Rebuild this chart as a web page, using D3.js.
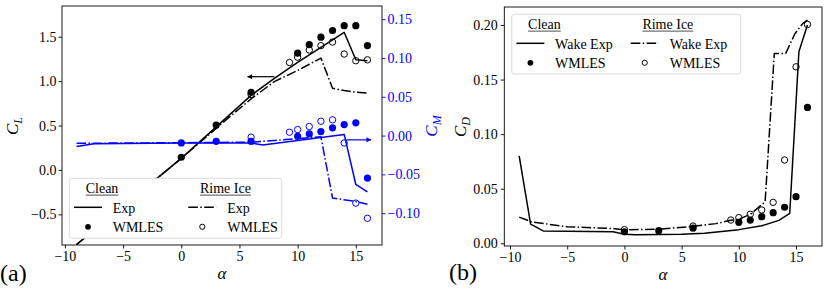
<!DOCTYPE html>
<html><head><meta charset="utf-8">
<script src="https://cdn.jsdelivr.net/npm/d3@7"></script>
<style>
body{margin:0;background:#fff;}
svg{display:block;font-family:"Liberation Serif","DejaVu Serif",serif;}
</style></head><body>
<svg id="c" width="830" height="291"></svg>
<script>
// ---------- data ----------
// Panel (a): lift coefficient C_L (left axis)
const clExpCleanA = [-9, 0, 6, 8, 10, 12, 14, 15, 16];
const clExpClean  = [-0.84, 0.13, 0.84, 1.03, 1.21, 1.38, 1.55, 1.24, 1.23];
const clExpRimeA  = [-9, 0, 4, 6, 8, 10, 11, 12, 13, 14, 15, 16];
const clExpRime   = [-0.84, 0.13, 0.58, 0.80, 0.995, 1.12, 1.19, 1.26, 0.92, 0.895, 0.875, 0.865];
const clLesCleanA = [0, 3, 6, 10, 11, 12, 13, 14, 15, 16];
const clLesClean  = [0.143, 0.505, 0.875, 1.315, 1.41, 1.495, 1.57, 1.625, 1.625, 1.40];
const clLesRimeA  = [6, 9.3, 10, 11, 12, 13, 14, 15, 16];
const clLesRime   = [0.85, 1.21, 1.27, 1.35, 1.40, 1.44, 1.305, 1.23, 1.24];
// Panel (a): moment coefficient C_M (right axis)
const cmExpCleanA = [-9, -7.5, 0, 6, 7, 14, 15, 16];
const cmExpClean  = [-0.014, -0.0105, -0.0095, -0.0095, -0.012, 0.0015, -0.063, -0.0725];
const cmExpRimeA  = [-9, -7.5, 0, 6, 12, 13, 15, 16];
const cmExpRime   = [-0.010, -0.0098, -0.0092, -0.0085, -0.0015, -0.0805, -0.085, -0.0885];
const cmLesCleanA = [0, 3, 6, 10, 11, 12, 13, 14, 15, 16];
const cmLesClean  = [-0.0095, -0.0074, -0.0074, -0.001, 0.0022, 0.0052, 0.010, 0.0142, 0.0164, -0.0548];
const cmLesRimeA  = [6, 9.3, 10, 11, 12, 13, 14, 15, 16];
const cmLesRime   = [-0.002, 0.0043, 0.0078, 0.0117, 0.0185, 0.0203, -0.0095, -0.087, -0.1066];
// Panel (b): drag coefficient C_D
const cdExpCleanA = [-9.2, -8.2, -7.1, -1, 0, 1, 5, 7, 10, 12, 13.5, 14.45, 15.25, 16];
const cdExpClean  = [0.080, 0.0175, 0.0113, 0.0105, 0.0082, 0.0078, 0.0082, 0.0092, 0.0125, 0.016, 0.021, 0.0275, 0.1755, 0.2];
const cdExpRimeA  = [-9.2, -8.1, -5, -1, 0, 3, 6, 8, 9.3, 10, 11, 12.3, 13.1, 14.1, 14.9, 15.6, 16];
const cdExpRime   = [0.024, 0.0195, 0.0152, 0.0135, 0.0122, 0.013, 0.0155, 0.018, 0.021, 0.022, 0.0265, 0.038, 0.174, 0.174, 0.192, 0.2015, 0.2045];
const cdLesCleanA = [0, 3, 6, 10, 11, 12, 13, 14, 15, 16];
const cdLesClean  = [0.0105, 0.0115, 0.0138, 0.0192, 0.0213, 0.0244, 0.028, 0.033, 0.0427, 0.1245];
const cdLesRimeA  = [0, 6, 9.3, 10, 11, 12, 13, 14, 15, 16];
const cdLesRime   = [0.0125, 0.0158, 0.0213, 0.0235, 0.0266, 0.0305, 0.0375, 0.0763, 0.1617, 0.2005];
// ticks
const alphaTicks = [-10, -5, 0, 5, 10, 15];
const clTicks = [-0.5, 0.0, 0.5, 1.0, 1.5];
const cmTicks = [-0.10, -0.05, 0.00, 0.05, 0.10, 0.15];
const cdTicks = [0.00, 0.05, 0.10, 0.15, 0.20];
// annotation arrows (data coords: [alpha start, alpha end, value])
const clArrow = [8.0, 5.7, 1.05];
const cmArrow = [14.2, 16.3, -0.0055];

// ---------- drawing ----------
const svg = d3.select("#c");
const BLUE = "#0000ff";
const FS = 14;
const FONT = '"Liberation Serif","DejaVu Serif",serif';
const zip = (a, b) => a.map((x, i) => [x, b[i]]);
const minus = s => s.replace("-", "\u2212");

const xA = d3.scaleLinear([-10.25, 17.25], [62, 382]);
const yCL = d3.scaleLinear([-0.845, 1.846], [245, 6]);
const yCM = d3.scaleLinear([-0.141, 0.167], [245, 6]);
const xB = d3.scaleLinear([-10.5, 17.27], [504.3, 822]);
const yCD = d3.scaleLinear([-0.0025, 0.2165], [246, 7]);

const defs = svg.append("defs");
function clip(id, x, y) {
  defs.append("clipPath").attr("id", id).append("rect")
    .attr("x", x.range()[0]).attr("y", y.range()[1])
    .attr("width", x.range()[1] - x.range()[0]).attr("height", y.range()[0] - y.range()[1]);
}
clip("clipA", xA, yCL); clip("clipB", xB, yCD);
["black", BLUE].forEach((c, i) => {
  defs.append("marker").attr("id", "ah" + i).attr("viewBox", "0 0 10 10")
    .attr("refX", 9).attr("refY", 5).attr("markerWidth", 6).attr("markerHeight", 5)
    .attr("markerUnits", "userSpaceOnUse").attr("orient", "auto")
    .append("path").attr("d", "M0,0L10,5L0,10z").attr("fill", c);
});

const DASHDOT = "9.6,2.4,1.5,2.4";
function line(g, x, y, pts, color, dash) {
  g.append("path").attr("d", d3.line().x(d => x(d[0])).y(d => y(d[1]))(pts))
    .attr("fill", "none").attr("stroke", color).attr("stroke-width", 1.5)
    .attr("stroke-dasharray", dash || null).attr("stroke-linejoin", "round");
}
function dots(g, x, y, pts, color, open) {
  g.selectAll(null).data(pts).join("circle")
    .attr("cx", d => x(d[0])).attr("cy", d => y(d[1]))
    .attr("r", open ? 3.2 : 3.6)
    .attr("fill", open ? "none" : color).attr("stroke", color).attr("stroke-width", open ? 1 : 0);
}
function styleAxis(g, color) {
  g.attr("font-family", FONT).attr("font-size", FS);
  g.selectAll(".domain").remove();
  g.selectAll("line").attr("stroke", color).attr("stroke-width", 0.9);
  g.selectAll("text").attr("fill", color).attr("font-size", FS).attr("font-family", FONT);
}

// ----- panel (a) -----
const pa = svg.append("g");
const gx = pa.append("g").attr("transform", `translate(0,${yCL.range()[0]})`)
  .call(d3.axisBottom(xA).tickValues(alphaTicks).tickSize(3.5).tickPadding(3).tickFormat(d => minus(String(d))));
styleAxis(gx, "black");
const gy = pa.append("g").attr("transform", `translate(${xA.range()[0]},0)`)
  .call(d3.axisLeft(yCL).tickValues(clTicks).tickSize(3.5).tickPadding(2).tickFormat(d => minus(d.toFixed(1))));
styleAxis(gy, "black");
const gy2 = pa.append("g").attr("transform", `translate(${xA.range()[1]},0)`)
  .call(d3.axisRight(yCM).tickValues(cmTicks).tickSize(3.5).tickPadding(2).tickFormat(d => minus(d.toFixed(2))));
styleAxis(gy2, BLUE);

const da = pa.append("g").attr("clip-path", "url(#clipA)");
line(da, xA, yCL, zip(clExpCleanA, clExpClean), "black");
line(da, xA, yCL, zip(clExpRimeA, clExpRime), "black", DASHDOT);
dots(da, xA, yCL, zip(clLesRimeA, clLesRime), "black", true);
dots(da, xA, yCL, zip(clLesCleanA, clLesClean), "black", false);
pa.append("line").attr("x1", xA(clArrow[0])).attr("x2", xA(clArrow[1]))
  .attr("y1", yCL(clArrow[2])).attr("y2", yCL(clArrow[2]))
  .attr("stroke", "black").attr("stroke-width", 1.2).attr("marker-end", "url(#ah0)");
line(da, xA, yCM, zip(cmExpCleanA, cmExpClean), BLUE);
line(da, xA, yCM, zip(cmExpRimeA, cmExpRime), BLUE, DASHDOT);
dots(da, xA, yCM, zip(cmLesRimeA, cmLesRime), BLUE, true);
dots(da, xA, yCM, zip(cmLesCleanA, cmLesClean), BLUE, false);
pa.append("line").attr("x1", xA(cmArrow[0])).attr("x2", xA(cmArrow[1]))
  .attr("y1", yCM(cmArrow[2])).attr("y2", yCM(cmArrow[2]))
  .attr("stroke", BLUE).attr("stroke-width", 1.2).attr("marker-end", "url(#ah1)");

pa.append("rect").attr("x", 62).attr("y", 6).attr("width", 320).attr("height", 239)
  .attr("fill", "none").attr("stroke", "black").attr("stroke-width", 0.9);

// ----- panel (b) -----
const pb = svg.append("g");
const bx = pb.append("g").attr("transform", `translate(0,${yCD.range()[0]})`)
  .call(d3.axisBottom(xB).tickValues(alphaTicks).tickSize(3.5).tickPadding(3).tickFormat(d => minus(String(d))));
styleAxis(bx, "black");
const by = pb.append("g").attr("transform", `translate(${xB.range()[0]},0)`)
  .call(d3.axisLeft(yCD).tickValues(cdTicks).tickSize(3.5).tickPadding(3).tickFormat(d => d.toFixed(2)));
styleAxis(by, "black");
const db = pb.append("g").attr("clip-path", "url(#clipB)");
line(db, xB, yCD, zip(cdExpCleanA, cdExpClean), "black");
line(db, xB, yCD, zip(cdExpRimeA, cdExpRime), "black", DASHDOT);
dots(db, xB, yCD, zip(cdLesCleanA, cdLesClean), "black", false);
dots(db, xB, yCD, zip(cdLesRimeA, cdLesRime), "black", true);
pb.append("rect").attr("x", xB.range()[0]).attr("y", yCD.range()[1])
  .attr("width", xB.range()[1] - xB.range()[0]).attr("height", yCD.range()[0] - yCD.range()[1])
  .attr("fill", "none").attr("stroke", "black").attr("stroke-width", 0.9);

// ----- axis labels -----
function mathLabel(x, y, main, sub, color, rot) {
  const t = svg.append("text").attr("transform", `translate(${x},${y}) rotate(${rot})`)
    .attr("text-anchor", "middle").attr("fill", color).attr("font-size", 17).attr("font-style", "italic");
  t.append("tspan").text(main);
  if (sub) t.append("tspan").attr("font-size", 12).attr("dy", 4).text(sub);
}
mathLabel(18, 126, "C", "L", "black", -90);
mathLabel(437, 126, "C", "M", BLUE, -90);
mathLabel(466, 127, "C", "D", "black", -90);
mathLabel(222, 279, "\u03b1", null, "black", 0);
mathLabel(663, 280, "\u03b1", null, "black", 0);
svg.append("text").attr("x", 0).attr("y", 281).attr("font-size", 24).text("(a)");
svg.append("text").attr("x", 449).attr("y", 280).attr("font-size", 24).text("(b)");

// ----- legends -----
function legend(x0, y0, w, h, expName) {
  const g = svg.append("g");
  g.append("rect").attr("x", x0).attr("y", y0).attr("width", w).attr("height", h).attr("rx", 2.5)
    .attr("fill", "white").attr("fill-opacity", 1).attr("stroke", "#d6d6d6").attr("stroke-width", 0.9);
  const cols = [{ title: "Clean", dash: null, open: false },
                { title: "Rime Ice", dash: DASHDOT, open: true }];
  cols.forEach((c, i) => {
    const sx = i === 0 ? x0 + 4.7 : x0 + 119;
    const tx = i === 0 ? x0 + 43.4 : x0 + 158;
    const hx = i === 0 ? x0 + 16.4 : x0 + 130.7;
    const t = g.append("text").attr("x", hx).attr("y", y0 + 14.7).attr("font-size", FS).text(c.title);
    const bb = t.node().getBBox();
    g.append("line").attr("x1", bb.x).attr("x2", bb.x + bb.width)
      .attr("y1", y0 + 16.8).attr("y2", y0 + 16.8).attr("stroke", "black").attr("stroke-width", 0.7);
    g.append("line").attr("x1", sx).attr("x2", sx + 28).attr("y1", y0 + 29).attr("y2", y0 + 29)
      .attr("stroke", "black").attr("stroke-width", 1.5).attr("stroke-dasharray", c.dash);
    g.append("text").attr("x", tx).attr("y", y0 + 34.2).attr("font-size", FS).text(expName);
    g.append("circle").attr("cx", sx + 14).attr("cy", y0 + 48.5).attr("r", c.open ? 2.6 : 2.9)
      .attr("fill", c.open ? "none" : "black").attr("stroke", "black").attr("stroke-width", c.open ? 1 : 0);
    g.append("text").attr("x", tx).attr("y", y0 + 54).attr("font-size", FS).text("WMLES");
  });
}
legend(69.3, 178.3, 212.4, 60, "Exp");
legend(511.7, 14.3, 229, 59.7, "Wake Exp");
</script>
</body></html>
